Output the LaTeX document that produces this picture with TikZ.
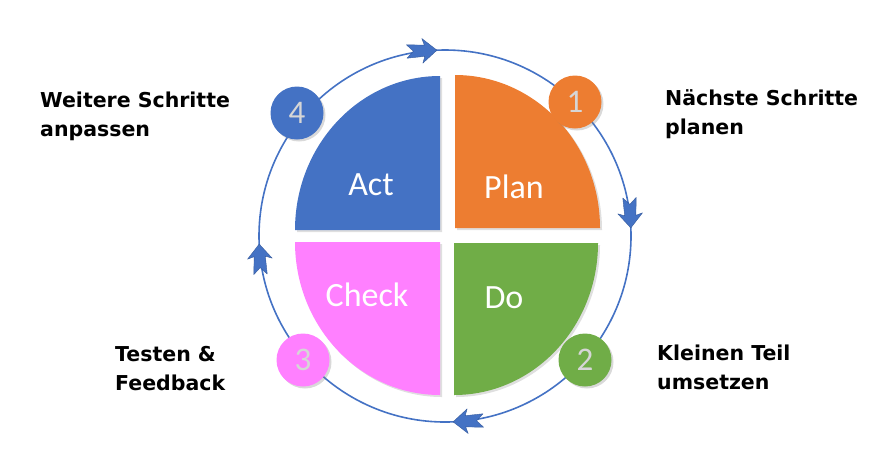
\documentclass[tikz,border=0pt]{standalone}
\usepackage{fontspec}
\setmainfont{Carlito}
\newfontfamily\notefont{DejaVu Sans}
\usetikzlibrary{calc,positioning,shadows}

\definecolor{actblue}{HTML}{4472C4}
\definecolor{planorange}{HTML}{ED7D31}
\definecolor{dogreen}{HTML}{70AD47}
\definecolor{checkpink}{HTML}{FF80FF}
\definecolor{digitgray}{HTML}{D6D6D6}

\tikzset{
  quarter/.style={draw=none,drop shadow={opacity=0.25,shadow xshift=2pt,shadow yshift=-2pt}},
  quartertext/.style={text=white,font=\fontsize{34}{38}\selectfont,anchor=base,inner sep=0pt},
  numball/.style={circle,minimum size=53pt,inner sep=0pt,text=digitgray,
    font=\fontsize{33}{34}\selectfont,drop shadow={opacity=0.3,shadow xshift=2pt,shadow yshift=-2pt}},
  note/.style={font=\notefont\bfseries\fontsize{20.5}{29}\selectfont,align=left,anchor=base west,inner sep=0pt},
  cyclearrow/.pic={
    \fill[actblue,draw=actblue!80!black,line width=0.4pt,line join=round,scale=1.12]
      (0,0) -- (-13,11) -- (-11,5) -- (-27,6) -- (-21,0) -- (-27,-6) -- (-11,-5) -- (-13,-11) -- cycle;}
}

\begin{document}
\begin{tikzpicture}[x=1pt,y=1pt]
				%\draw[color=gray,step=10pt,help lines,opacity=0.3] (0,0) grid (888,-459); %help grids
				\useasboundingbox (0,0) rectangle (888,-459);
				\coordinate (c) at (445,-236);
				\draw[actblue,line width=1.6pt] (c) circle[radius=186];
				\pic[rotate=2.5] at ($(c)+(92.5:186)$) {cyclearrow};
				\pic[rotate=-87.5] at ($(c)+(2.5:186)$) {cyclearrow};
				\pic[rotate=-177.5] at ($(c)+(-87.5:186)$) {cyclearrow};
				\pic[rotate=92.5] at ($(c)+(182.5:186)$) {cyclearrow};
				\fill[quarter,actblue] (440,-230) -- (295,-230) arc[start angle=180,end angle=90,x radius=145,y radius=154] -- cycle;
				\fill[quarter,planorange] (455,-228) -- (455,-75) arc[start angle=90,end angle=0,x radius=145,y radius=153] -- cycle;
				\fill[quarter,dogreen] (454,-243) -- (598,-243) arc[start angle=0,end angle=-90,x radius=144,y radius=152] -- cycle;
				\fill[quarter,checkpink] (440,-242) -- (440,-395) arc[start angle=-90,end angle=-180,x radius=145,y radius=153] -- cycle;
				\node[quartertext] (act) at (371,-195) {Act};
				\node[quartertext] (plan) at (514,-198) {Plan};
				\node[quartertext] (check) at (367,-306) {Check};
				\node[quartertext] (do) at (504,-308) {Do};
				\node[numball,fill=planorange] (n1) at (575,-102) {1};
				\node[numball,fill=dogreen] (n2) at (585,-360) {2};
				\node[numball,fill=checkpink] (n3) at (303,-360) {3};
				\node[numball,fill=actblue] (n4) at (297,-113) {4};
				\node[note] (plannote) at (665,-134) {Nächste Schritte\\planen};
				\node[note] (donote) at (657,-389) {Kleinen Teil\\umsetzen};
				\node[note] (checknote) at (115,-390) {Testen \&\\Feedback};
				\node[note] (actnote) at (40,-136) {Weitere Schritte\\anpassen};
\end{tikzpicture}
\end{document}
